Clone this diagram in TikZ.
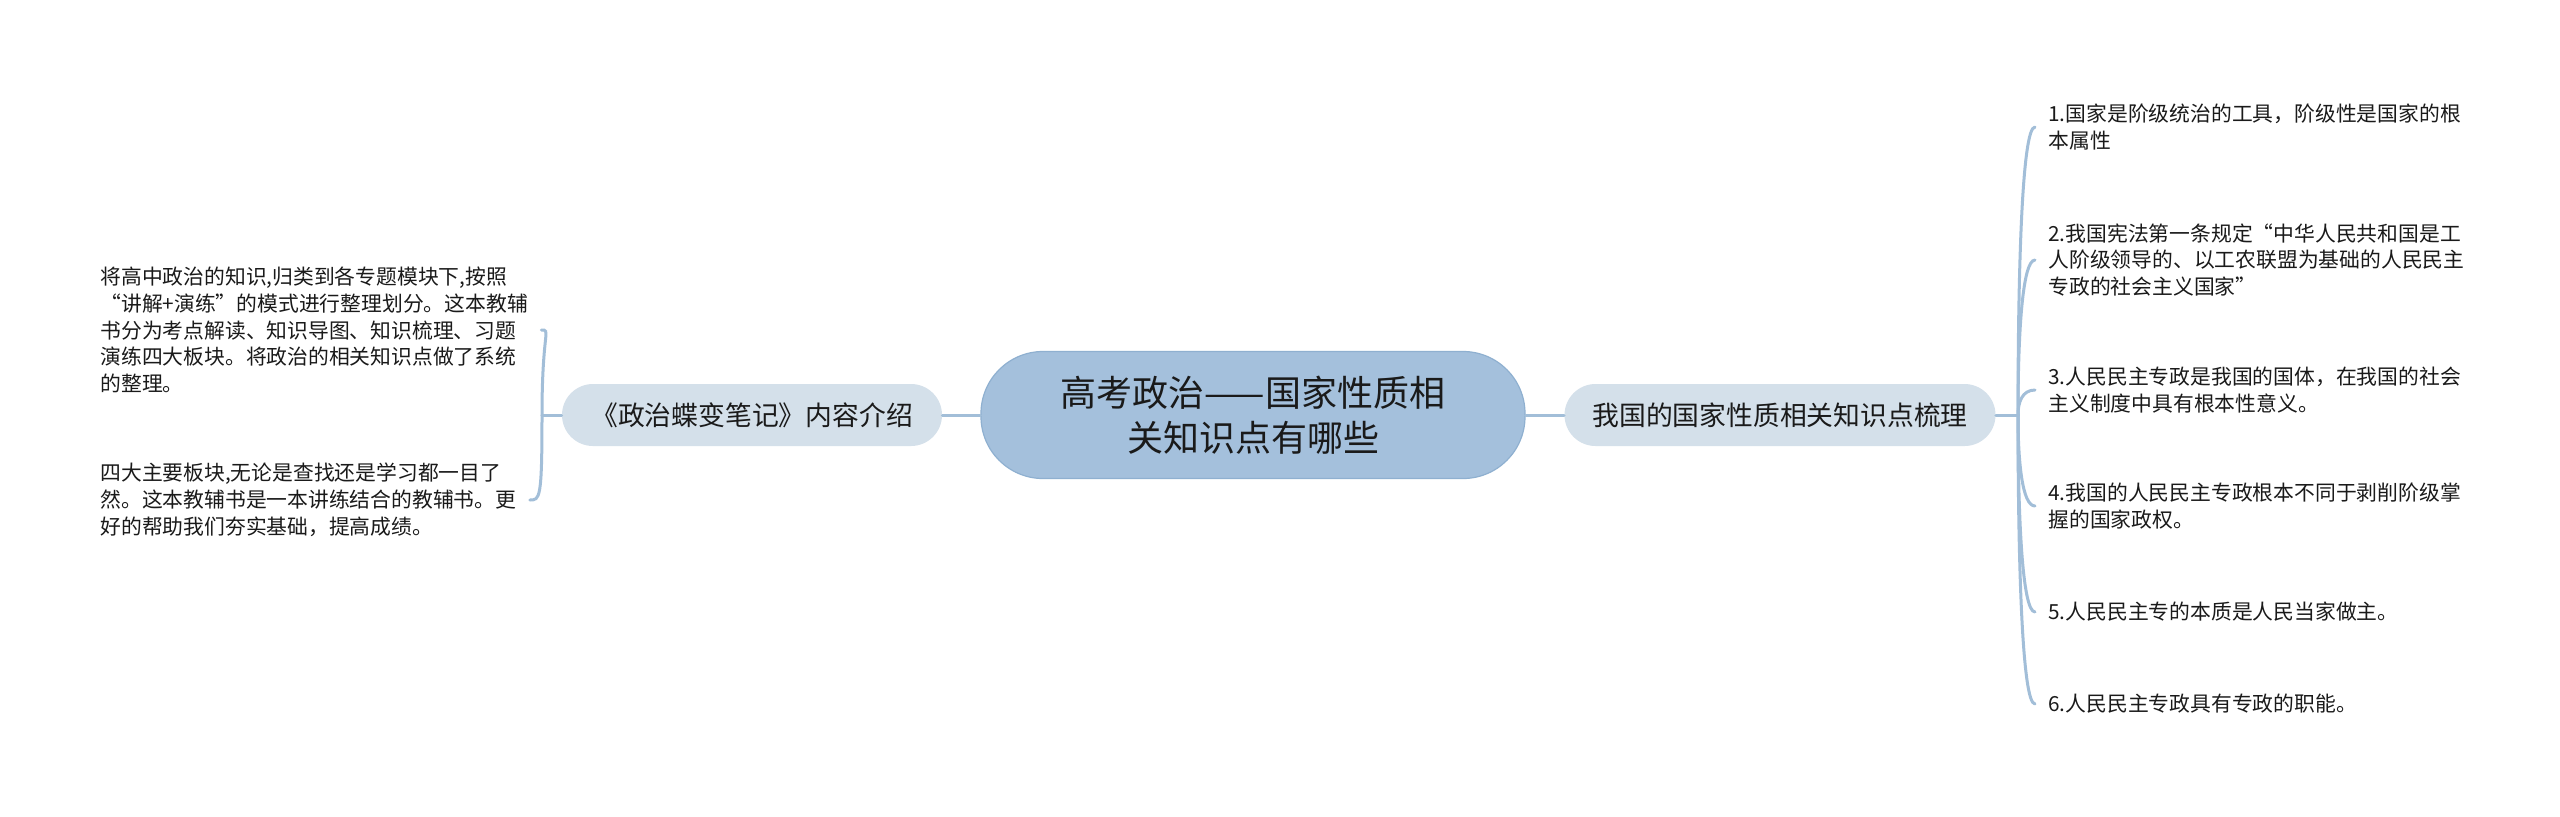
\documentclass[tikz,border=0pt]{standalone}
\usepackage{fontspec}
\setmainfont{Noto Sans CJK SC}
\usetikzlibrary{calc}
\definecolor{cfill}{HTML}{A4C0DC}
\definecolor{cborder}{HTML}{8FB0D0}
\definecolor{sfill}{HTML}{D4E0EA}
\definecolor{lcol}{HTML}{A2BED8}
\definecolor{tcol}{HTML}{1A1A1A}
\tikzset{
  centerbox/.style={draw=cborder, line width=0.6pt, fill=cfill, rounded corners=31pt,
    minimum width=272pt, minimum height=63.5pt, align=center, text=tcol,
    font=\fontsize{18pt}{22.5pt}\selectfont},
  subbox/.style={fill=sfill, rounded corners=15.5pt, minimum height=31pt, text=tcol,
    font=\fontsize{13.4pt}{16pt}\selectfont},
  leaf/.style={inner xsep=6.5pt, inner ysep=0pt, align=left, text=tcol,
    font=\fontsize{10.4pt}{13.4pt}\selectfont},
  conn/.style={draw=lcol, line width=1.5pt, line cap=round}
}
\begin{document}
\begin{tikzpicture}[x=0.5pt,y=-0.5pt]
\useasboundingbox[fill=white] (0,0) rectangle (2560,816);

\node[centerbox] (c) at (1253,415) {高考政治——国家性质相\\关知识点有哪些};
\node[subbox, minimum width=190pt] (lt) at (752,415) {《政治蝶变笔记》内容介绍};
\node[subbox, minimum width=215.5pt] (rt) at (1780,415) {我国的国家性质相关知识点梳理};

\coordinate (lj) at (542,415);
\coordinate (rj) at (2018,415);

\node[leaf, anchor=west] (l1) at (87,330) {将高中政治的知识,归类到各专题模块下,按照\\“讲解+演练”的模式进行整理划分。这本教辅\\书分为考点解读、知识导图、知识梳理、习题\\演练四大板块。将政治的相关知识点做了系统\\的整理。};
\node[leaf, anchor=west] (l2) at (87,500) {四大主要板块,无论是查找还是学习都一目了\\然。这本教辅书是一本讲练结合的教辅书。更\\好的帮助我们夯实基础，提高成绩。};

\node[leaf, anchor=west] (r1) at (2035,127) {1.国家是阶级统治的工具，阶级性是国家的根\\本属性};
\node[leaf, anchor=west] (r2) at (2035,260) {2.我国宪法第一条规定“中华人民共和国是工\\人阶级领导的、以工农联盟为基础的人民民主\\专政的社会主义国家”};
\node[leaf, anchor=west] (r3) at (2035,390) {3.人民民主专政是我国的国体，在我国的社会\\主义制度中具有根本性意义。};
\node[leaf, anchor=west] (r4) at (2035,506) {4.我国的人民民主专政根本不同于剥削阶级掌\\握的国家政权。};
\node[leaf, anchor=west] (r5) at (2035,612) {5.人民民主专的本质是人民当家做主。};
\node[leaf, anchor=west] (r6) at (2035,704) {6.人民民主专政具有专政的职能。};

\draw[conn] (c.west) -- (lt.east);
\draw[conn] (c.east) -- (rt.west);
\draw[conn] (lt.west) -- (lj);
\draw[conn] (rt.east) -- (rj);

\foreach \n in {l1,l2}{
  \draw[conn] (lj) .. controls (lj |- \n.east) and ($(\n.east)+(10,0)$) .. (\n.east);
}
\foreach \n in {r1,r2,r3,r4,r5,r6}{
  \draw[conn] (rj) .. controls ($(rj)!0.5!(rj |- \n.west)$) and ($(\n.west)+(-13,0)$) .. (\n.west);
}
\end{tikzpicture}
\end{document}
